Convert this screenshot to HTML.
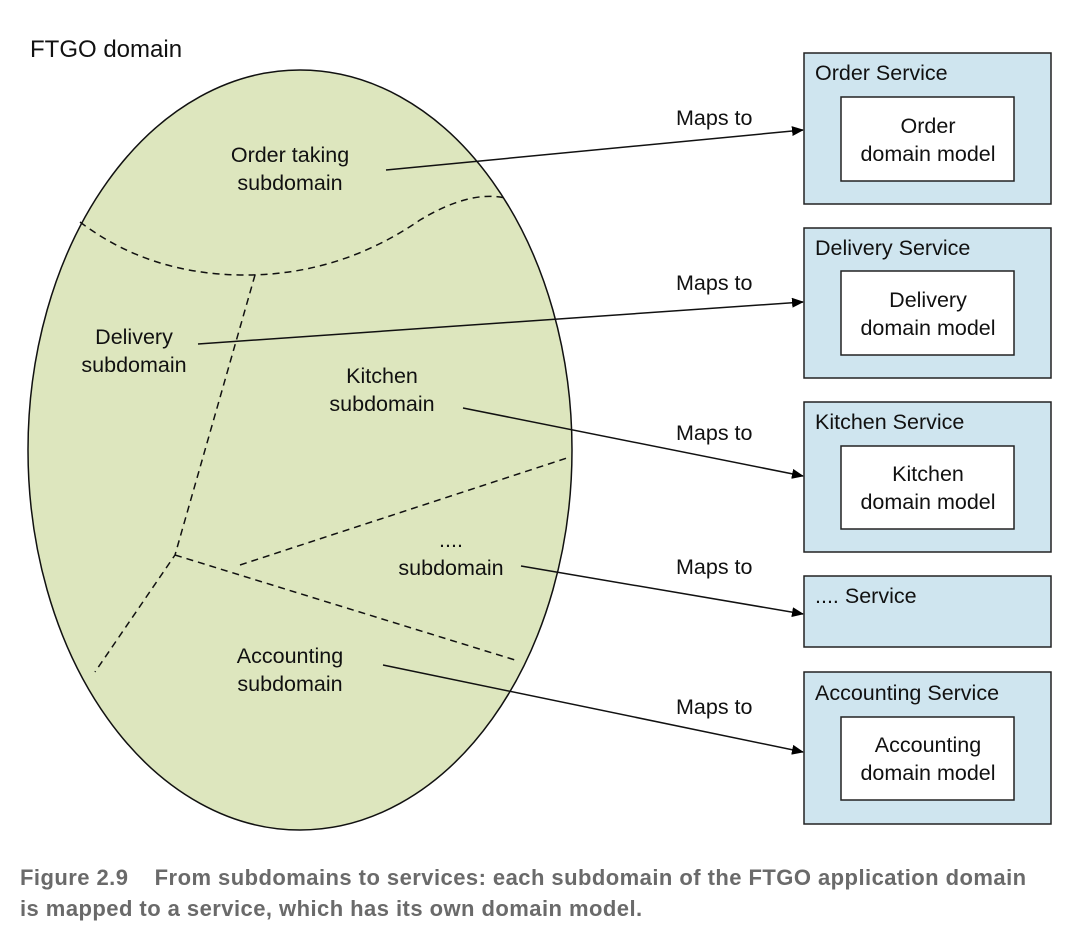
<!DOCTYPE html>
<html><head><meta charset="utf-8"><style>
html,body{margin:0;padding:0;background:#fff;width:1080px;height:933px;overflow:hidden}
svg text{font-family:"Liberation Sans",sans-serif;font-size:21.5px;fill:#111}
.cap{position:absolute;left:20px;top:862px;font-family:"Liberation Sans Narrow","Liberation Sans",sans-serif;font-weight:bold;font-size:22px;color:#6a6a6a;line-height:31px;letter-spacing:0.45px;white-space:nowrap}
</style></head><body>
<svg width="1080" height="933" style="position:absolute;left:0;top:0">
<defs><marker id="a" markerWidth="12" markerHeight="10" refX="11" refY="5" orient="auto" markerUnits="userSpaceOnUse"><path d="M0,0 L12,5 L0,10 z" fill="#000"/></marker></defs>
<text x="30" y="57" style="font-size:24px">FTGO domain</text>
<ellipse cx="300" cy="450" rx="272" ry="380" fill="#dde6be" stroke="#111" stroke-width="1.5"/>
<g fill="none" stroke="#111" stroke-width="1.5" stroke-dasharray="7,5">
<path d="M80,222 Q150,275 245,275 Q340,275 420,220 Q470,190 505,198"/>
<path d="M255,275 L175,555 L95,672"/>
<path d="M175,555 L515,660"/>
<path d="M240,565 L567,458"/>
</g>
<g text-anchor="middle">
<text x="290" y="162">Order taking</text><text x="290" y="190">subdomain</text>
<text x="134" y="344">Delivery</text><text x="134" y="372">subdomain</text>
<text x="382" y="383">Kitchen</text><text x="382" y="411">subdomain</text>
<text x="451" y="547">....</text><text x="451" y="575">subdomain</text>
<text x="290" y="663">Accounting</text><text x="290" y="691">subdomain</text>
</g>
<g stroke="#111" stroke-width="1.5" marker-end="url(#a)">
<line x1="386" y1="170" x2="803" y2="130"/>
<line x1="198" y1="344" x2="803" y2="302"/>
<line x1="463" y1="408" x2="803" y2="476"/>
<line x1="521" y1="566" x2="803" y2="614"/>
<line x1="383" y1="665" x2="803" y2="752"/>
</g>
<text x="676" y="125">Maps to</text>
<text x="676" y="290">Maps to</text>
<text x="676" y="440">Maps to</text>
<text x="676" y="574">Maps to</text>
<text x="676" y="714">Maps to</text>
<g stroke="#222" stroke-width="1.5">
<rect x="804" y="53" width="247" height="151" fill="#cfe5ef"/>
<rect x="841" y="97" width="173" height="84" fill="#fff"/>
<rect x="804" y="228" width="247" height="150" fill="#cfe5ef"/>
<rect x="841" y="271" width="173" height="84" fill="#fff"/>
<rect x="804" y="402" width="247" height="150" fill="#cfe5ef"/>
<rect x="841" y="446" width="173" height="83" fill="#fff"/>
<rect x="804" y="576" width="247" height="71" fill="#cfe5ef"/>
<rect x="804" y="672" width="247" height="152" fill="#cfe5ef"/>
<rect x="841" y="717" width="173" height="83" fill="#fff"/>
</g>
<text x="815" y="80">Order Service</text>
<text x="815" y="255">Delivery Service</text>
<text x="815" y="429">Kitchen Service</text>
<text x="815" y="603">.... Service</text>
<text x="815" y="700">Accounting Service</text>
<g text-anchor="middle">
<text x="928" y="133">Order</text><text x="928" y="161">domain model</text>
<text x="928" y="307">Delivery</text><text x="928" y="335">domain model</text>
<text x="928" y="481">Kitchen</text><text x="928" y="509">domain model</text>
<text x="928" y="752">Accounting</text><text x="928" y="780">domain model</text>
</g>
</svg>
<div class="cap">Figure 2.9&nbsp;&nbsp;&nbsp; From subdomains to services: each subdomain of the FTGO application domain<br>is mapped to a service, which has its own domain model.</div>
</body></html>
